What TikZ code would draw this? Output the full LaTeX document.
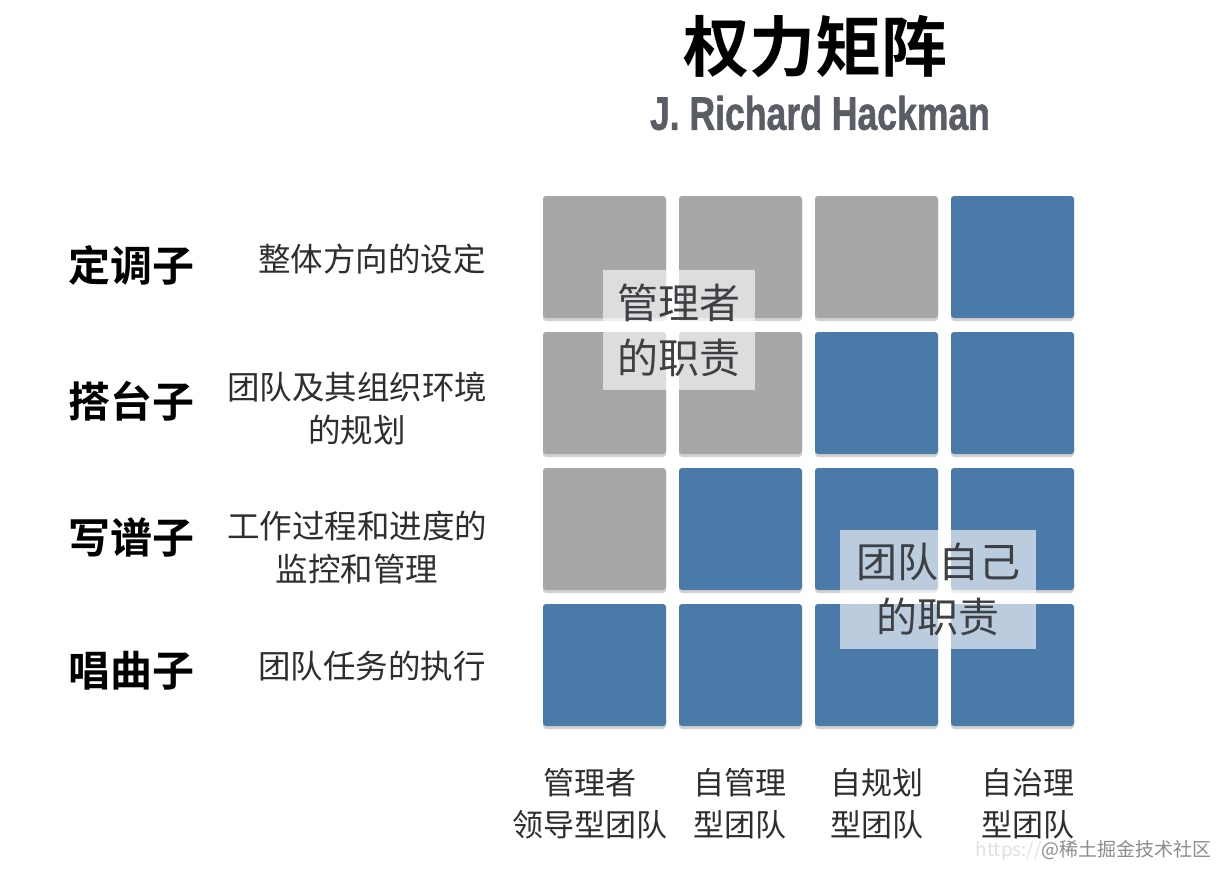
\documentclass[tikz,border=0pt]{standalone}
\usepackage{fontspec}
\newfontfamily\cjk{Noto Sans CJK SC}
\newfontfamily\cjkb{Noto Sans CJK SC Bold}
\newfontfamily\latb[FakeBold=1.2]{Liberation Sans Bold}
\definecolor{cellgray}{HTML}{A6A7A9}
\definecolor{cellblue}{HTML}{4A7AA8}
\definecolor{txtdark}{HTML}{2E2E2E}
\definecolor{subgray}{HTML}{5A5C66}
\definecolor{ovtext}{HTML}{3E4044}
\begin{document}
\begin{tikzpicture}[x=1pt,y=-1pt,
  cell/.style={rounded corners=3pt},
  shade/.style={fill=black,opacity=0.18,rounded corners=3pt},
  rowlab/.style={font=\cjkb\fontsize{42}{48}\selectfont,text=black,inner sep=0pt},
  desc/.style={font=\cjk\fontsize{32.5}{43}\selectfont,text=txtdark,align=center,inner sep=0pt},
  collab/.style={font=\cjk\fontsize{31}{42}\selectfont,text=txtdark,align=center,inner sep=0pt},
  ovbox/.style={fill=white,fill opacity=0.62,text opacity=1,text=ovtext,
    font=\cjk\fontsize{41}{55}\selectfont,align=center,inner sep=0pt}]
\useasboundingbox (0,0) rectangle (1218,868);
\fill[white] (0,0) rectangle (1218,868);
% title
\node[font=\cjkb\fontsize{66}{70}\selectfont,inner sep=0pt] (title) at (815,47) {权力矩阵};
\node[inner sep=0pt,text=subgray] (sub) at (820,113) {\resizebox{340pt}{34pt}{\latb\fontsize{46}{50}\selectfont J. Richard Hackman}};
% cells
\foreach \c/\r/\col in {1/1/cellgray,2/1/cellgray,3/1/cellgray,4/1/cellblue,
                        1/2/cellgray,2/2/cellgray,3/2/cellblue,4/2/cellblue,
                        1/3/cellgray,2/3/cellblue,3/3/cellblue,4/3/cellblue,
                        1/4/cellblue,2/4/cellblue,3/4/cellblue,4/4/cellblue}{
  \pgfmathsetmacro\xa{543+136*(\c-1)}
  \pgfmathsetmacro\ya{196+136*(\r-1)}
  \fill[shade] (\xa,\ya+2) rectangle ++(123,123);
  \fill[cell,fill=\col] (\xa,\ya) rectangle ++(123,122);
}
% overlay labels
\node[ovbox,minimum width=152pt,minimum height=120pt] (mgr) at (679,330) {管理者\\的职责};
\node[ovbox,minimum width=196pt,minimum height=119pt] (team) at (938,589) {团队自己\\的职责};
% row labels
\node[rowlab] (r1) at (131,265) {定调子};
\node[rowlab] (r2) at (131,401) {搭台子};
\node[rowlab] (r3) at (131,537) {写谱子};
\node[rowlab] (r4) at (131,671) {唱曲子};
% descriptions
\node[desc] (d1) at (372,259) {整体方向的设定};
\node[desc] (d2) at (357,409) {团队及其组织环境\\的规划};
\node[desc] (d3) at (357,548) {工作过程和进度的\\监控和管理};
\node[desc] (d4) at (372,666) {团队任务的执行};
% column labels
\node[collab] (c1) at (590,804) {管理者\\领导型团队};
\node[collab] (c2) at (740,804) {自管理\\型团队};
\node[collab] (c3) at (877,804) {自规划\\型团队};
\node[collab] (c4) at (1028,804) {自治理\\型团队};
% watermark
\node[anchor=east,font=\cjk\fontsize{19}{22}\selectfont,inner sep=0pt] (wm) at (1212,851)
  {\textcolor{black!12}{https://}\textcolor{black!45}{@稀土掘金技术社区}};
\end{tikzpicture}
\end{document}
